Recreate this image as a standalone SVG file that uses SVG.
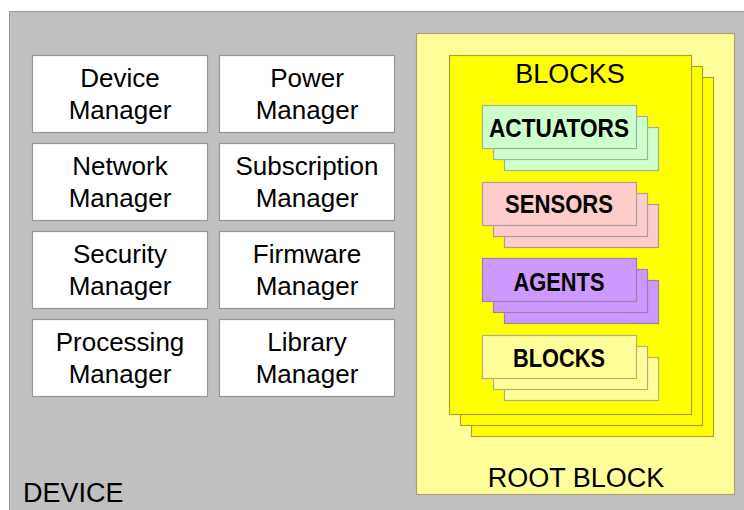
<svg xmlns="http://www.w3.org/2000/svg" width="744" height="510" viewBox="0 0 744 510">
<style>
.bg{fill:#c0c0c0;stroke:#999;stroke-width:1}
.mgr{fill:#fff;stroke:#999;stroke-width:1.2}
.t{font-family:"Liberation Sans",Arial,sans-serif;font-size:26px;fill:#000;text-anchor:middle}
.big{font-family:"Liberation Sans",Arial,sans-serif;font-size:27px;fill:#000}
.b{font-family:"Liberation Sans",Arial,sans-serif;font-size:25px;font-weight:bold;fill:#000;text-anchor:middle}
.root{fill:#ffff99;stroke:#aaa066;stroke-width:1.2}
.blk{fill:#ffff00;stroke:#aaa040;stroke-width:1.2}
.g{fill:#ccffcc;stroke:#a0b0a0;stroke-width:1.2}
.p{fill:#ffcccc;stroke:#b09c9c;stroke-width:1.2}
.v{fill:#cc99ff;stroke:#9c80b0;stroke-width:1.2}
.y{fill:#ffff99;stroke:#b0b080;stroke-width:1.2}
</style>
<rect width="744" height="510" fill="#fff"/>
<g id="device">
<rect class="bg" x="9.5" y="11.5" width="740" height="505"/>
<text class="big" x="23" y="502">DEVICE</text>
</g>
<g id="device-manager"><rect class="mgr" x="32.5" y="55.5" width="175" height="77"/><text class="t" x="120" y="87">Device</text><text class="t" x="120" y="119">Manager</text></g>
<g id="power-manager"><rect class="mgr" x="219.5" y="55.5" width="175" height="77"/><text class="t" x="307" y="87">Power</text><text class="t" x="307" y="119">Manager</text></g>
<g id="network-manager"><rect class="mgr" x="32.5" y="143.5" width="175" height="77"/><text class="t" x="120" y="175">Network</text><text class="t" x="120" y="207">Manager</text></g>
<g id="subscription-manager"><rect class="mgr" x="219.5" y="143.5" width="175" height="77"/><text class="t" x="307" y="175">Subscription</text><text class="t" x="307" y="207">Manager</text></g>
<g id="security-manager"><rect class="mgr" x="32.5" y="231.5" width="175" height="77"/><text class="t" x="120" y="263">Security</text><text class="t" x="120" y="295">Manager</text></g>
<g id="firmware-manager"><rect class="mgr" x="219.5" y="231.5" width="175" height="77"/><text class="t" x="307" y="263">Firmware</text><text class="t" x="307" y="295">Manager</text></g>
<g id="processing-manager"><rect class="mgr" x="32.5" y="319.5" width="175" height="77"/><text class="t" x="120" y="351">Processing</text><text class="t" x="120" y="383">Manager</text></g>
<g id="library-manager"><rect class="mgr" x="219.5" y="319.5" width="175" height="77"/><text class="t" x="307" y="351">Library</text><text class="t" x="307" y="383">Manager</text></g>
<g id="root-block">
<rect class="root" x="416.5" y="33.5" width="318" height="461"/>
<text class="big" x="576" y="487" text-anchor="middle">ROOT BLOCK</text>
</g>
<g id="blocks">
<rect class="blk" x="471.5" y="77.5" width="242" height="359"/>
<rect class="blk" x="460.5" y="66.5" width="242" height="359"/>
<rect class="blk" x="449.5" y="55.5" width="242" height="359"/>
<text class="big" x="570" y="83" text-anchor="middle">BLOCKS</text>
</g>
<g id="actuators">
<rect class="g" x="504.5" y="127.5" width="154" height="43"/>
<rect class="g" x="493.5" y="116.5" width="154" height="43"/>
<rect class="g" x="482.5" y="105.5" width="154" height="43"/>
<text class="b" x="559" y="137" textLength="140" lengthAdjust="spacingAndGlyphs">ACTUATORS</text>
</g>
<g id="sensors">
<rect class="p" x="504.5" y="204.5" width="154" height="43"/>
<rect class="p" x="493.5" y="193.5" width="154" height="43"/>
<rect class="p" x="482.5" y="182.5" width="154" height="43"/>
<text class="b" x="559" y="213" textLength="108" lengthAdjust="spacingAndGlyphs">SENSORS</text>
</g>
<g id="agents">
<rect class="v" x="504.5" y="280.5" width="154" height="43"/>
<rect class="v" x="493.5" y="269.5" width="154" height="43"/>
<rect class="v" x="482.5" y="258.5" width="154" height="43"/>
<text class="b" x="559" y="291" textLength="91" lengthAdjust="spacingAndGlyphs">AGENTS</text>
</g>
<g id="inner-blocks">
<rect class="y" x="504.5" y="357.5" width="154" height="43"/>
<rect class="y" x="493.5" y="346.5" width="154" height="43"/>
<rect class="y" x="482.5" y="335.5" width="154" height="43"/>
<text class="b" x="559" y="367" textLength="92" lengthAdjust="spacingAndGlyphs">BLOCKS</text>
</g>
<g id="connectors"></g>
</svg>
